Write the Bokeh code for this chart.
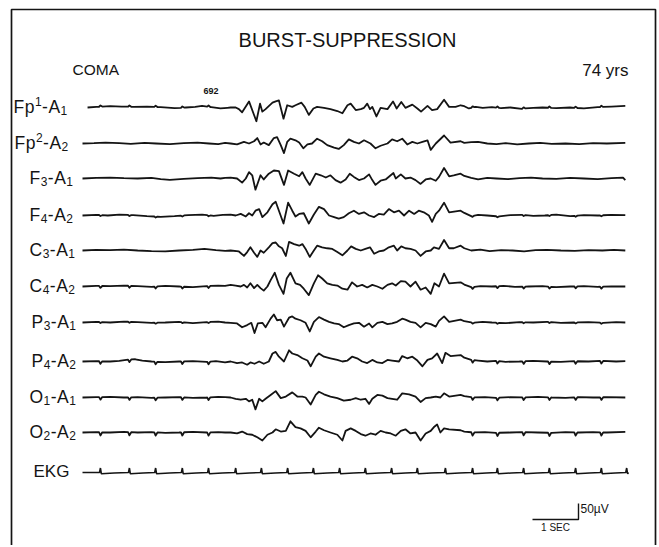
import numpy as np
from bokeh.plotting import figure
from bokeh.models import Range1d, Label
from bokeh.embed import file_html
from bokeh.resources import INLINE

# ---------------- data (time in s, amplitude in µV) ----------------
# channel names, split into (text, kind): m = normal, b = subscript, p = superscript
CHANNEL_PARTS = [
    [("F", "m"), ("p", "m"), ("1", "p"), ("-", "m"), ("A", "m"), ("1", "b")],
    [("F", "m"), ("p", "m"), ("2", "p"), ("-", "m"), ("A", "m"), ("2", "b")],
    [("F", "m"), ("3", "b"), ("-", "m"), ("A", "m"), ("1", "b")],
    [("F", "m"), ("4", "b"), ("-", "m"), ("A", "m"), ("2", "b")],
    [("C", "m"), ("3", "b"), ("-", "m"), ("A", "m"), ("1", "b")],
    [("C", "m"), ("4", "b"), ("-", "m"), ("A", "m"), ("2", "b")],
    [("P", "m"), ("3", "b"), ("-", "m"), ("A", "m"), ("1", "b")],
    [("P", "m"), ("4", "b"), ("-", "m"), ("A", "m"), ("2", "b")],
    [("O", "m"), ("1", "b"), ("-", "m"), ("A", "m"), ("1", "b")],
    [("O", "m"), ("2", "b"), ("-", "m"), ("A", "m"), ("2", "b")],
]
EKG_NAME = "EKG"

FP1_T = [0.11, 0.3, 0.6, 0.85, 1.1, 1.4, 1.7, 2.0, 2.25, 2.45, 2.6, 2.8, 3.0, 3.15,
         3.22, 3.33, 3.40, 3.47, 3.62, 3.78, 3.86, 3.91, 3.98, 4.13, 4.20, 4.27, 4.37, 4.45, 4.56, 4.63,
         4.76, 4.83, 4.92, 5.02, 5.10, 5.25, 5.39, 5.54, 5.65, 5.76, 5.83, 5.94, 6.05, 6.12, 6.19, 6.25,
         6.30, 6.39, 6.48, 6.63, 6.75, 6.83, 6.93, 7.02, 7.17, 7.28, 7.36, 7.50, 7.60, 7.71, 7.86, 7.97,
         8.11, 8.22,
         8.3, 8.4, 8.55, 8.7, 8.9, 9.1, 9.3, 9.55, 9.8, 10.0, 10.3, 10.6, 10.9, 11.2, 11.5, 11.8]
FP1_V = [0, 2, 4, 3, 2, 3, 1, -2, 0, 2, 5, 1, -3, -1,
         0, 0, -5, -15, 19, -43, 12, -13, -5, 15, 19, 22, -35, 7, 2, 7,
         15, 2, -23, -3, 2, -1, -5, -11, -18, 7, 12, -8, -5, -1, 12, -5,
         2, -28, -1, -5, 19, -3, 17, -1, 9, -3, -13, 5, -8, -5, 24, 2,
         2, 7,
         4, -3, 2, -1, 1, -2, 0, -4, -1, 0, -2, 0, -3, 1, 3, 5]

FP2_T = [0.0, 0.25, 0.5, 0.8, 1.05, 1.35, 1.6, 1.9, 2.2, 2.5, 2.75, 2.95, 3.1,
         3.22, 3.36, 3.51, 3.62, 3.73, 3.80, 3.87, 3.94, 4.05, 4.16, 4.23, 4.31, 4.38, 4.45, 4.52, 4.63,
         4.71, 4.80, 4.89, 4.99, 5.10, 5.21, 5.32, 5.47, 5.57, 5.68, 5.79, 5.90, 6.01, 6.12, 6.26, 6.37,
         6.48, 6.63, 6.73, 6.84, 6.95, 7.06, 7.17, 7.28, 7.39, 7.50, 7.57, 7.68, 7.86, 8.00, 8.22,
         8.3, 8.45, 8.6, 8.8, 9.0, 9.2, 9.45, 9.7, 9.95, 10.2, 10.5, 10.8, 11.1, 11.4, 11.8]
FP2_V = [0, 1, 3, 1, -1, 2, 0, -2, 1, 3, 0, -2, 2,
         0, -3, 5, 0, 7, 17, -3, 3, -5, 17, 20, -5, -30, 5, 15, 10,
         3, -15, -3, 0, 15, 7, -5, -13, -17, -5, 13, 5, 0, 10, 0, -15,
         -7, 0, 13, 7, 15, -3, 5, 0, 5, 10, -20, 0, 25, 3, 7,
         2, 4, 5, 0, -2, 1, -3, 0, 2, -1, 0, -2, 1, 0, 2]

F3_T = [0.0, 0.3, 0.6, 0.9, 1.2, 1.5, 1.7, 1.9, 2.2, 2.5, 2.8, 3.0, 3.1,
        3.22, 3.36, 3.47, 3.55, 3.62, 3.69, 3.76, 3.87, 3.94, 4.05, 4.16, 4.27, 4.38, 4.47, 4.60, 4.71,
        4.78, 4.85, 4.94, 5.07, 5.18, 5.29, 5.39, 5.50, 5.61, 5.72, 5.81, 5.90, 6.01, 6.12, 6.23, 6.30,
        6.37, 6.48, 6.59, 6.70, 6.76, 6.81, 6.92, 7.02, 7.13, 7.24, 7.35, 7.46, 7.57, 7.68, 7.75, 7.86,
        7.97, 8.07, 8.22,
        8.3, 8.45, 8.6, 8.8, 9.0, 9.25, 9.5, 9.75, 10.0, 10.3, 10.6, 10.9, 11.2, 11.5, 11.75, 11.8]
F3_V = [0, 2, 3, 1, 0, 2, -2, -4, -1, 1, 3, 0, 2,
        3, 0, -13, 0, 20, 10, -35, 10, -3, 15, 25, 23, -20, 25, 15, 7,
        20, 0, -20, 15, 10, 3, 10, -5, -13, -3, 15, 5, -5, 0, 13, -5,
        -20, -7, -3, 10, 17, 0, 13, 0, 3, -5, -17, -3, 0, -7, 5, 33,
        7, 10, 15,
        8, 2, -3, 2, 0, -2, 1, 3, 0, -1, 2, 0, -2, 1, 3, -5]

F4_T = [0.0, 0.3, 0.55, 0.8, 1.1, 1.4, 1.7, 2.0, 2.3, 2.6, 2.85, 3.05,
        3.22, 3.33, 3.44, 3.55, 3.62, 3.69, 3.76, 3.84, 3.91, 4.02, 4.13, 4.20, 4.27, 4.37, 4.47, 4.56,
        4.63, 4.71, 4.81, 4.92, 5.03, 5.14, 5.25, 5.36, 5.47, 5.57, 5.68, 5.79, 5.90, 6.01, 6.12, 6.23,
        6.34, 6.44, 6.55, 6.66, 6.77, 6.88, 6.99, 7.10, 7.21, 7.31, 7.42, 7.53, 7.60, 7.68, 7.75, 7.86,
        7.97, 8.22,
        8.3, 8.45, 8.6, 8.8, 9.05, 9.3, 9.55, 9.8, 10.05, 10.3, 10.6, 10.9, 11.2, 11.5, 11.8]
F4_V = [0, 2, 0, 3, 1, -2, -4, -2, 1, 3, -1, 2,
        3, 0, 5, -3, 7, 0, 15, 20, -5, 10, 35, 43, 15, -25, 40, 15,
        -3, 5, 7, -25, 3, 27, 20, 0, -5, -10, -5, 7, 15, 5, 10, 0,
        -5, 5, 3, 20, 10, 15, 0, 15, 5, 15, 10, 0, -20, 5, 15, 40,
        10, 15,
        8, -2, 2, 0, -3, 1, 2, -1, 0, 3, -2, 1, 0, 2, 1]

C3_T = [0.0, 0.3, 0.6, 0.9, 1.2, 1.5, 1.8, 2.1, 2.4, 2.65, 2.9, 3.1,
        3.22, 3.40, 3.51, 3.58, 3.65, 3.73, 3.80, 3.87, 3.94, 4.05, 4.13, 4.20, 4.27, 4.34, 4.42, 4.49,
        4.60, 4.71, 4.78, 4.85, 4.94, 5.03, 5.10, 5.21, 5.32, 5.43, 5.54, 5.65, 5.76, 5.84, 5.94, 6.05,
        6.15, 6.25, 6.34, 6.44, 6.55, 6.66, 6.77, 6.84, 6.93, 7.02, 7.13, 7.24, 7.35, 7.46, 7.57, 7.64,
        7.75, 7.86, 7.97, 8.07, 8.22,
        8.3, 8.45, 8.65, 8.85, 9.1, 9.35, 9.6, 9.85, 10.1, 10.4, 10.7, 11.0, 11.3, 11.55, 11.8]
C3_V = [0, 2, 1, 3, 0, -2, -3, 0, 2, 5, 1, -1,
        0, -3, -17, -5, 10, -7, -20, 0, -7, 10, 23, 25, 13, 7, -17, 27,
        20, 15, 20, 5, -20, 0, 15, 10, 7, 5, -5, -15, 0, 13, 5, 0,
        5, 10, -10, -3, 0, 10, 15, 0, 13, 7, 5, 0, -17, -3, 0, 10,
        5, 33, 7, 7, 15,
        7, 0, 3, -2, 1, 0, -3, 1, 2, 0, -1, 1, 0, 2, 0]

C4_T = [0.0, 0.3, 0.6, 0.9, 1.2, 1.5, 1.8, 2.1, 2.4, 2.7, 2.95, 3.1,
        3.22, 3.33, 3.44, 3.51, 3.58, 3.65, 3.73, 3.80, 3.87, 3.94, 4.02, 4.09, 4.18, 4.27, 4.37, 4.44,
        4.52, 4.63, 4.73, 4.81, 4.92, 5.03, 5.12, 5.21, 5.32, 5.43, 5.54, 5.65, 5.76, 5.86, 5.97, 6.08,
        6.19, 6.30, 6.41, 6.52, 6.63, 6.73, 6.81, 6.92, 7.02, 7.13, 7.24, 7.35, 7.46, 7.57, 7.65, 7.75,
        7.86, 7.97, 8.22,
        8.3, 8.45, 8.65, 8.9, 9.15, 9.4, 9.7, 10.0, 10.3, 10.6, 10.9, 11.2, 11.5, 11.8]
C4_V = [0, 2, 1, 3, 1, -1, 2, 0, -2, 1, 3, 2,
        5, 3, 0, 5, -3, 10, -5, 5, -5, -13, 0, 20, 43, 5, -23, 25,
        43, 10, 5, -7, -27, 10, 35, 25, 10, 5, 3, -7, -10, 13, 0, 5,
        -3, 5, 0, -7, 5, 10, 3, 17, 15, 0, 15, -10, -3, -23, 10, 0,
        40, 10, 13,
        6, -2, 1, 0, 2, -1, 0, 1, -2, 0, 1, -1, 0, 0]

P3_T = [0.0, 0.3, 0.6, 0.9, 1.2, 1.5, 1.8, 2.1, 2.4, 2.7, 2.95, 3.1,
        3.22, 3.36, 3.47, 3.58, 3.67, 3.74, 3.81, 3.91, 3.98, 4.09, 4.16, 4.23, 4.31, 4.38, 4.49, 4.56,
        4.63, 4.74, 4.85, 4.94, 5.03, 5.14, 5.25, 5.36, 5.47, 5.57, 5.68, 5.79, 5.90, 6.01, 6.12, 6.23,
        6.30, 6.41, 6.52, 6.63, 6.73, 6.84, 6.95, 7.02, 7.13, 7.24, 7.35, 7.46, 7.57, 7.68, 7.75, 7.86,
        7.97, 8.22,
        8.3, 8.5, 8.7, 8.9, 9.2, 9.5, 9.8, 10.1, 10.4, 10.7, 11.0, 11.3, 11.6, 11.8]
P3_V = [0, 2, 0, 3, 1, -1, 0, 2, -2, 1, 3, 0,
        -1, -3, -15, -8, -1, -33, -3, -1, -15, 12, 25, 7, 9, -13, 15, 19,
        12, 7, -1, -28, 2, 17, 9, 2, -3, -5, -15, -8, -3, -1, -13, -3,
        -15, -1, 2, -5, -3, 2, 12, 9, 2, -1, -15, -1, -5, -13, 5, 19,
        2, 9,
        4, -1, 2, 0, -2, 1, 0, 2, -1, 0, 1, -1, 1, 0]

P4_T = [0.0, 0.3, 0.6, 0.8, 1.0, 1.15, 1.3, 1.5, 1.8, 2.1, 2.4, 2.7, 2.9, 3.1,
        3.22, 3.36, 3.47, 3.58, 3.65, 3.74, 3.84, 3.94, 4.05, 4.13, 4.20, 4.27, 4.38, 4.49, 4.56, 4.67,
        4.78, 4.89, 4.96, 5.07, 5.14, 5.25, 5.39, 5.54, 5.65, 5.76, 5.86, 5.97, 6.08, 6.19, 6.30, 6.41,
        6.52, 6.63, 6.73, 6.88, 6.95, 7.06, 7.17, 7.28, 7.39, 7.50, 7.60, 7.71, 7.82, 7.89, 8.00, 8.22,
        8.3, 8.45, 8.6, 8.8, 9.0, 9.2, 9.5, 9.8, 10.1, 10.4, 10.7, 11.0, 11.3, 11.6, 11.8]
P4_V = [0, 1, 0, 2, 6, 7, 3, 0, -2, 0, 1, -1, 1, -3,
        0, -5, -3, -10, -3, -7, 0, -7, 0, 25, 30, 15, 0, 35, 25, 20,
        10, 3, -15, 15, 25, 15, 10, 5, 0, 3, 15, 10, 0, -5, 5, -3,
        -5, 5, 3, 0, 17, 10, 15, 3, -15, 5, 10, 25, -5, 27, 17, 20,
        12, 5, 3, 0, 2, -1, 0, 2, 0, -1, 1, 0, 2, 0, 1]

O1_T = [0.0, 0.3, 0.6, 0.9, 1.2, 1.5, 1.8, 2.1, 2.4, 2.7, 2.95, 3.1,
        3.22, 3.33, 3.44, 3.55, 3.62, 3.69, 3.76, 3.84, 3.91, 3.98, 4.09, 4.20, 4.31, 4.42, 4.56, 4.67,
        4.78, 4.85, 4.96, 5.07, 5.14, 5.25, 5.39, 5.54, 5.68, 5.83, 5.94, 6.05, 6.15, 6.23, 6.30, 6.41,
        6.52, 6.63, 6.73, 6.84, 6.95, 7.10, 7.24, 7.35, 7.46, 7.57, 7.68, 7.78, 7.86, 7.97, 8.22,
        8.3, 8.5, 8.75, 9.0, 9.3, 9.6, 9.9, 10.2, 10.5, 10.8, 11.1, 11.4, 11.8]
O1_V = [0, 1, 2, 0, 1, -1, 0, 1, -1, 0, 2, 1,
        0, -4, -7, -4, -12, -7, -37, -4, -12, -4, 8, 20, -2, 3, 16, 3,
        3, 0, -22, 8, 18, 10, 3, -2, -10, -7, -2, -7, -4, -20, -4, 8,
        6, -2, -4, -7, 13, 10, 3, -14, -2, 0, 3, 0, 13, 3, 8,
        4, 0, 1, -1, 1, 0, 2, 0, -1, 1, 0, 1, 0]

O2_T = [0.0, 0.3, 0.6, 0.9, 1.2, 1.5, 1.8, 2.1, 2.4, 2.7, 2.95, 3.1,
        3.22, 3.36, 3.47, 3.58, 3.69, 3.80, 3.91, 4.02, 4.13, 4.20, 4.31, 4.42, 4.52, 4.63, 4.74, 4.85,
        4.96, 5.07, 5.14, 5.25, 5.39, 5.54, 5.65, 5.72, 5.83, 5.94, 6.05, 6.15, 6.26, 6.37, 6.48, 6.59,
        6.70, 6.81, 6.92, 7.02, 7.13, 7.24, 7.35, 7.46, 7.57, 7.64, 7.71, 7.78, 7.86, 7.97, 8.22,
        8.3, 8.5, 8.75, 9.0, 9.3, 9.6, 9.9, 10.2, 10.5, 10.8, 11.1, 11.4, 11.8]
O2_V = [0, 1, 0, 2, 0, 1, -1, 0, 2, 0, 1, 0,
        0, -3, 3, -5, -7, -15, -25, -7, 0, 10, 3, 5, 35, 17, 13, 5,
        -15, 3, 15, 7, 0, -7, -25, 5, 13, 5, -5, -10, -3, -7, 5, 0,
        -3, -10, 5, 10, -3, 0, -25, -3, 5, 17, 25, 0, 13, 10, 7,
        3, 0, 1, -1, 0, 1, 0, -1, 1, 0, 1, 0, 2]

SERIES_T = [FP1_T, FP2_T, F3_T, F4_T, C3_T, C4_T, P3_T, P4_T, O1_T, O2_T]
SERIES_V = [FP1_V, FP2_V, F3_V, F4_V, C3_V, C4_V, P3_V, P4_V, O1_V, O2_V]

# ECG pick-up seen in the EEG channels (µV, negative = downward notch)
ARTIFACT_UV = [4, 0, 0, -3, 0, -6, -3, -8, -8, -10]

# EKG channel: QRS times (s) and complex shape
EKG_BEATS = [0.39, 1.02, 1.59, 2.17, 2.74, 3.33, 3.89, 4.46, 5.02, 5.59, 6.15,
             6.72, 7.28, 7.89, 8.48, 9.02, 9.59, 10.15, 10.72, 11.28, 11.83]
EKG_SHAPE_DT = [-0.02, 0.0, 0.02, 0.30]
EKG_SHAPE_UV = [0, 14, -4, -1.5]
EKG_END = 11.87

SCALE_SEC = 1.0
SCALE_UV = 50

# ---------------- layout ----------------
W, H = 659, 545
PX_PER_SEC = 46.0
PX_PER_UV = 16.0 / 50.0
T0_PX = 82          # screen x of t = 0
ROW_Y = [107, 143, 178, 215, 250, 286, 322, 361, 397, 432]
LABEL_LEFT = [13, 14, 29, 29, 29, 29, 31, 31, 29, 29]
EKG_Y = 472
BURST = (3.2, 8.3)
FONT = "Liberation Sans"
INK = "#141414"
MAIN_PX, SMALL_PX, GAP_PX = 17.5, 12, 0.5
# Arial/Liberation Sans advance widths (em)
ADV = {"F": 0.611, "p": 0.556, "-": 0.333, "A": 0.667, "C": 0.722, "P": 0.667,
       "O": 0.778, "1": 0.556, "2": 0.556, "3": 0.556, "4": 0.556}


def tx(px):
    return (px - T0_PX) / PX_PER_SEC


def ty(py):
    return -py / PX_PER_UV


x0 = tx(0)
p = figure(width=W, height=H, output_backend="svg", toolbar_location=None,
           x_range=Range1d(x0, x0 + W / PX_PER_SEC),
           y_range=Range1d(-H / PX_PER_UV, 0),
           min_border=0, min_border_left=0, min_border_right=0,
           min_border_top=0, min_border_bottom=0)
p.axis.visible = False
p.grid.visible = False
p.outline_line_color = None
p.background_fill_color = "white"
p.border_fill_color = "white"


def text(x_px, y_px, s, size, align="left", style="normal"):
    p.add_layout(Label(x=tx(x_px), y=ty(y_px), text=s, text_align=align,
                       text_baseline="middle", text_font=FONT,
                       text_font_size=f"{size}px", text_font_style=style,
                       text_color=INK))


def with_artifact(T, V, amp):
    T = np.asarray(T, float)
    V = np.asarray(V, float)
    if amp == 0:
        return T, V
    keep = np.ones(len(T), bool)
    nt, nv = [], []
    for b in EKG_BEATS:
        if BURST[0] <= b <= BURST[1] or b - 0.03 <= T[0] or b + 0.04 >= T[-1]:
            continue
        keep &= ~((T > b - 0.03) & (T < b + 0.04))
        for dt, k in ((-0.03, 0.0), (0.0, 1.0), (0.04, 0.0)):
            nt.append(b + dt)
            nv.append(np.interp(b + dt, T, V) + k * amp)
    T2 = np.concatenate([T[keep], nt])
    V2 = np.concatenate([V[keep], nv])
    o = np.argsort(T2)
    return T2[o], V2[o]


def channel_label(parts, left_px, row_px):
    x = left_px
    for s, kind in parts:
        if kind == "m":
            size, cy = MAIN_PX, row_px - 1.0
        elif kind == "b":
            size, cy = SMALL_PX, row_px + 3.2
        else:
            size, cy = SMALL_PX, row_px - 5.8
        text(x, cy, s, size)
        x += ADV[s] * size + GAP_PX


# EEG traces
for i, (T, V) in enumerate(zip(SERIES_T, SERIES_V)):
    assert len(T) == len(V), (i, len(T), len(V))
    tt, vv = with_artifact(T, V, ARTIFACT_UV[i])
    p.line(tt, vv + ty(ROW_Y[i]), line_color=INK, line_width=1.8, line_join="round")
    channel_label(CHANNEL_PARTS[i], LABEL_LEFT[i], ROW_Y[i])

# EKG trace
et, ev = [0.0], [0.0]
for b in EKG_BEATS:
    for dt, u in zip(EKG_SHAPE_DT, EKG_SHAPE_UV):
        if b + dt < EKG_END:
            et.append(b + dt)
            ev.append(u)
et.append(EKG_END)
ev.append(0.0)
p.line(et, np.array(ev) + ty(EKG_Y), line_color=INK, line_width=1.6)
text(33, 470.5, EKG_NAME, 17)

# frame (open at the bottom, as in the page)
fx = [tx(11), tx(11), tx(655), tx(655)]
fy = [ty(600), ty(9), ty(9), ty(600)]
p.line(fx, fy, line_color=INK, line_width=1.7)

# headings
text(347, 39.5, "BURST-SUPPRESSION", 20, align="center")
text(72, 69, "COMA", 15.5)
text(628, 70, "74 yrs", 17, align="right")
text(203, 90, "692", 9, style="bold")

# calibration bar
sx0 = tx(532)
sy0 = ty(519)
p.line([sx0, sx0 + SCALE_SEC, sx0 + SCALE_SEC], [sy0, sy0, sy0 + SCALE_UV],
       line_color=INK, line_width=1.4)
text(580, 508.5, "50µV", 12)
text(555, 527, "1 SEC", 10, align="center")

open("out.html", "w").write(file_html(p, INLINE))
